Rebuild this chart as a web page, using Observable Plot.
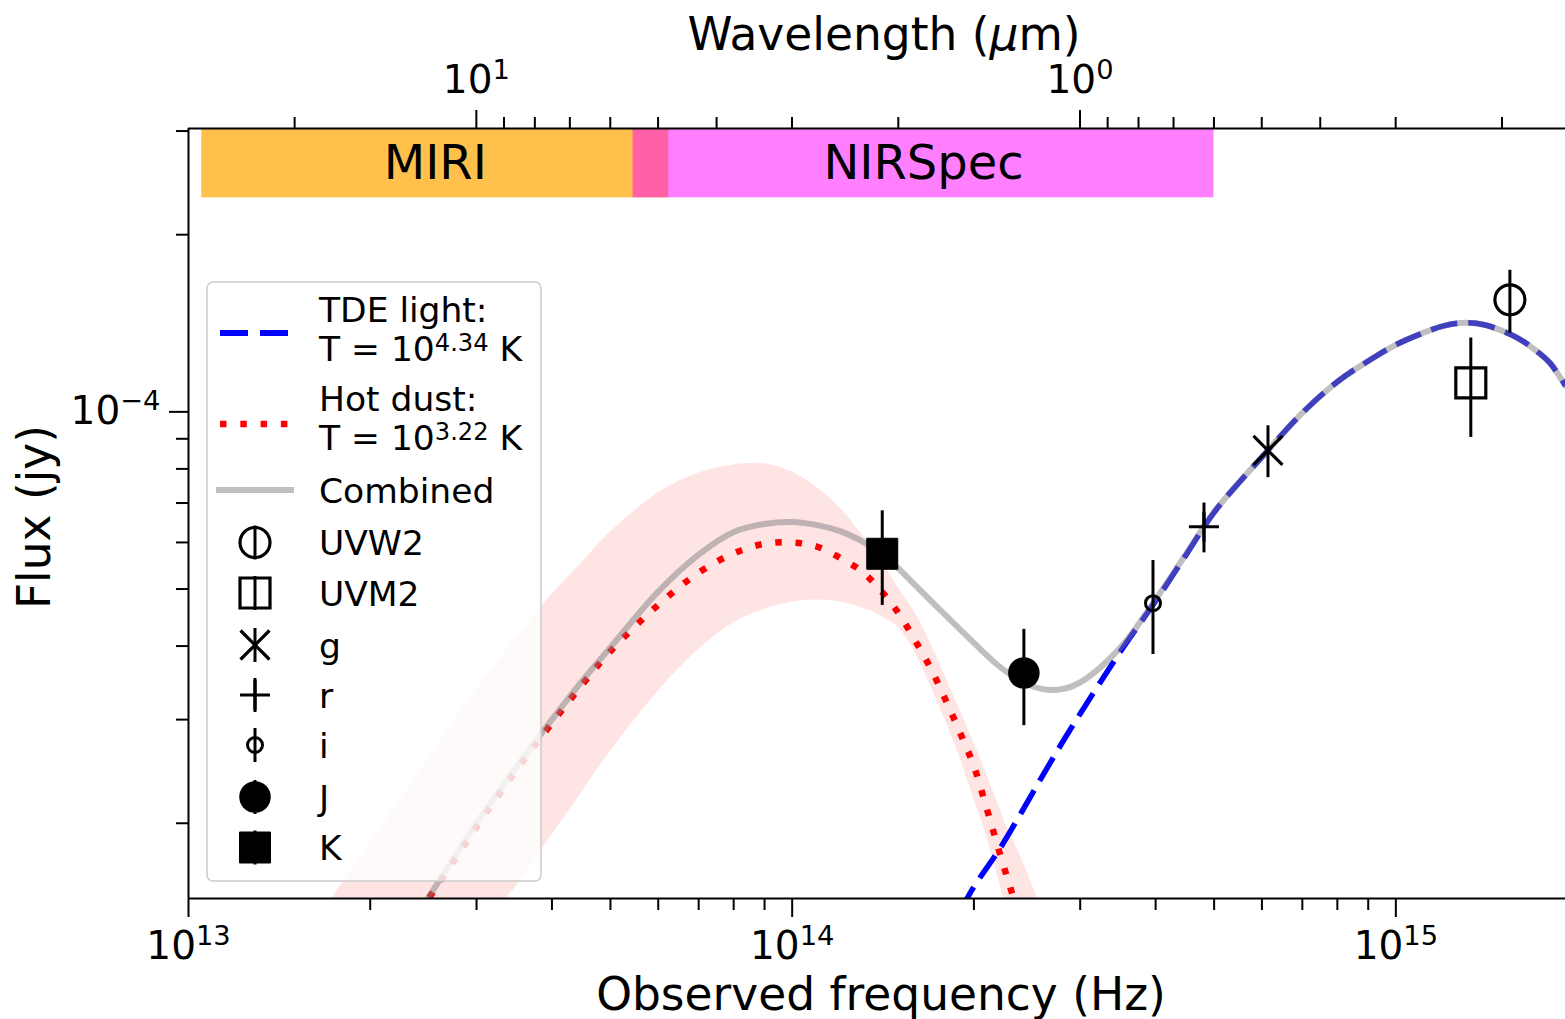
<!DOCTYPE html>
<html>
<head>
<meta charset="utf-8">
<title>TDE SED</title>
<script src="https://cdn.jsdelivr.net/npm/d3@7"></script>
<script src="https://cdn.jsdelivr.net/npm/@observablehq/plot@0.6"></script>
<style>
  html, body { margin: 0; padding: 0; background: #fff; overflow: hidden; }
  #chart { width: 1565px; height: 1019px; }
  #chart svg { display: block; font-family: "DejaVu Sans", sans-serif; }
</style>
</head>
<body>
<div id="chart"></div>
<script>
// ---------------- data ----------------
const C_UM_HZ = 2.998e14; // c in µm·Hz, converts wavelength (µm) <-> frequency (Hz)

// photometric points
const obsBand = ["UVW2", "UVM2", "g", "r", "i", "J", "K"];
const obsFreq = [1.545e15, 1.331e15, 6.14e14, 4.81e14, 3.96e14, 2.42e14, 1.41e14];
const obsFlux = [1.55e-4, 1.12e-4, 8.6e-5, 6.38e-5, 4.73e-5, 3.60e-5, 5.74e-5];
const obsErr  = [1.9e-5, 2.15e-5, 8.7e-6, 6.2e-6, 8.6e-6, 6.7e-6, 1.05e-5];

// TDE light
const tdeFreq = [1.9e14, 2.0e14, 2.2e14, 2.4e14, 2.6e14, 2.8e14, 3.0e14, 3.5e14, 4.0e14, 4.5e14, 5.0e14,
                 6.0e14, 7.0e14, 8.0e14, 9.0e14, 1.0e15, 1.1e15, 1.2e15, 1.3e15, 1.4e15, 1.5e15, 1.6e15, 1.7e15, 1.8e15, 1.91e15];
const tdeFlux = [1.42e-5, 1.56e-5, 1.80e-5, 2.09e-5, 2.41e-5, 2.74e-5, 3.07e-5, 3.92e-5, 4.77e-5, 5.73e-5, 6.75e-5,
                 8.38e-5, 9.96e-5, 1.125e-4, 1.22e-4, 1.30e-4, 1.357e-4, 1.40e-4, 1.417e-4, 1.406e-4, 1.373e-4, 1.331e-4, 1.275e-4, 1.211e-4, 1.107e-4];

// Hot dust (dotted red curve)
const dustFreq = [2.4e13, 2.5e13, 3e13, 3.5e13, 4e13, 4.5e13, 5e13, 6e13, 7e13, 8e13, 9e13, 1e14, 1.1e14, 1.2e14, 1.3e14,
                  1.4e14, 1.5e14, 1.6e14, 1.7e14, 1.8e14, 1.9e14, 2.0e14, 2.1e14, 2.2e14, 2.3e14, 2.4e14];
const dustFlux = [1.40e-5, 1.49e-5, 1.97e-5, 2.47e-5, 2.96e-5, 3.45e-5, 3.92e-5, 4.70e-5, 5.33e-5, 5.75e-5, 5.97e-5, 6.00e-5, 5.90e-5, 5.65e-5, 5.37e-5,
                  4.98e-5, 4.55e-5, 4.08e-5, 3.65e-5, 3.22e-5, 2.84e-5, 2.50e-5, 2.12e-5, 1.80e-5, 1.55e-5, 1.35e-5];

// Combined (grey curve)
const combFreq = [2.4e13, 2.5e13, 3e13, 3.5e13, 4e13, 4.5e13, 5e13, 6e13, 7e13, 8e13, 9e13,
                  1.0e14, 1.1e14, 1.2e14, 1.3e14, 1.4e14, 1.5e14, 1.6e14,
                  1.8e14, 2.0e14, 2.2e14, 2.4e14, 2.6e14, 2.8e14, 3.0e14, 3.5e14, 4.0e14, 4.5e14, 5.0e14,
                  6.0e14, 7.0e14, 8.0e14, 9.0e14,
                  1.0e15, 1.1e15, 1.2e15, 1.3e15, 1.4e15, 1.5e15, 1.6e15, 1.7e15, 1.8e15, 1.91e15];
const combFlux = [1.41e-5, 1.50e-5, 2.00e-5, 2.50e-5, 3.00e-5, 3.50e-5, 3.98e-5, 4.95e-5, 5.72e-5, 6.25e-5, 6.45e-5,
                  6.50e-5, 6.42e-5, 6.27e-5, 6.04e-5, 5.75e-5, 5.42e-5, 5.07e-5,
                  4.50e-5, 4.05e-5, 3.70e-5, 3.48e-5, 3.38e-5, 3.38e-5, 3.47e-5, 3.98e-5, 4.80e-5, 5.75e-5, 6.76e-5,
                  8.38e-5, 9.96e-5, 1.125e-4, 1.22e-4,
                  1.30e-4, 1.357e-4, 1.40e-4, 1.417e-4, 1.406e-4, 1.373e-4, 1.331e-4, 1.275e-4, 1.211e-4, 1.107e-4];

// Hot-dust uncertainty band (pink), lower / upper edges (values below the axis run off the frame)
const bandFreq  = [1.7e13, 1.74e13, 2e13, 2.5e13, 3e13, 3.38e13, 3.5e13, 4e13, 4.5e13, 5e13,
                   6e13, 7e13, 8e13, 9e13,
                   1.0e14, 1.1e14, 1.2e14, 1.3e14, 1.4e14, 1.5e14, 1.6e14, 1.7e14, 1.8e14, 1.9e14, 2.0e14, 2.1e14, 2.2e14,
                   2.25e14, 2.4e14, 2.55e14, 2.6e14];
const bandUpper = [1.42e-5, 1.50e-5, 1.85e-5, 2.58e-5, 3.38e-5, 3.95e-5, 4.15e-5, 4.90e-5, 5.57e-5, 6.25e-5,
                   7.28e-5, 7.87e-5, 8.12e-5, 8.16e-5,
                   7.90e-5, 7.43e-5, 6.87e-5, 6.22e-5, 5.62e-5, 5.02e-5, 4.55e-5, 4.02e-5, 3.52e-5, 3.10e-5, 2.74e-5, 2.42e-5, 2.14e-5,
                   2.01e-5, 1.74e-5, 1.49e-5, 1.42e-5];
const bandLower = [1.3e-5, 1.3e-5, 1.3e-5, 1.3e-5, 1.3e-5, 1.50e-5, 1.57e-5, 1.91e-5, 2.27e-5, 2.65e-5,
                   3.35e-5, 3.95e-5, 4.38e-5, 4.62e-5,
                   4.75e-5, 4.79e-5, 4.75e-5, 4.65e-5, 4.50e-5, 4.30e-5, 3.89e-5, 3.40e-5, 2.96e-5, 2.57e-5, 2.20e-5, 1.90e-5, 1.60e-5,
                   1.48e-5, 1.3e-5, 1.3e-5, 1.3e-5];

// JWST instrument coverage (wavelength, µm)
const instName  = ["MIRI", "NIRSpec"];
const instWlMin = [4.8, 0.6];
const instWlMax = [28.5, 5.5];
const instFluxBottom = 2.31e-4;

// axes
const xDomain = [1e13, 1.91e15];
const yDomain = [1.49e-5, 3.03e-4];
const xMajorTicks = [1e13, 1e14, 1e15];
const xMinorTicks = [2e13, 3e13, 4e13, 5e13, 6e13, 7e13, 8e13, 9e13, 2e14, 3e14, 4e14, 5e14, 6e14, 7e14, 8e14, 9e14];
const wlMajorTicks = [10, 1];
const wlMinorTicks = [20, 9, 8, 7, 6, 5, 4, 3, 2, 0.9, 0.8, 0.7, 0.6, 0.5, 0.4, 0.3, 0.2];
const yMajorTicks = [1e-4];
const yMinorTicks = [2e-5, 3e-5, 4e-5, 5e-5, 6e-5, 7e-5, 8e-5, 9e-5, 2e-4, 3e-4];

// ---------------- tables ----------------
const obs  = obsBand.map((b, i) => ({band: b, nu: obsFreq[i], f: obsFlux[i], e: obsErr[i]}));
const tde  = tdeFreq.map((nu, i) => ({nu, f: tdeFlux[i]}));
const dust = dustFreq.map((nu, i) => ({nu, f: dustFlux[i]}));
const comb = combFreq.map((nu, i) => ({nu, f: combFlux[i]}));
const band = bandFreq.map((nu, i) => ({nu, lo: bandLower[i], hi: bandUpper[i]}));
const inst = instName.map((n, i) => ({
  name: n, x1: C_UM_HZ / instWlMax[i], x2: C_UM_HZ / instWlMin[i],
  y1: instFluxBottom, y2: yDomain[1],
  xc: Math.sqrt((C_UM_HZ / instWlMax[i]) * (C_UM_HZ / instWlMin[i])),
  yc: Math.sqrt(instFluxBottom * yDomain[1])
}));

// ---------------- marker symbols ----------------
const rad = s => Math.sqrt(s / Math.PI);
const symCircle = {draw(c, s) { const r = rad(s); c.moveTo(r, 0); c.arc(0, 0, r, 0, 2 * Math.PI); }};
const symSquare = {draw(c, s) { const r = rad(s); c.rect(-r, -r, 2 * r, 2 * r); }};
const symPlus   = {draw(c, s) { const r = rad(s); c.moveTo(-r, 0); c.lineTo(r, 0); c.moveTo(0, -r); c.lineTo(0, r); }};
const symTimes  = {draw(c, s) { const r = rad(s); c.moveTo(-r, -r); c.lineTo(r, r); c.moveTo(-r, r); c.lineTo(r, -r); }};

const markerStyle = {
  UVW2: {symbol: symCircle, r: 15,   fill: "none",  strokeWidth: 3.2},
  UVM2: {symbol: symSquare, r: 15,   fill: "none",  strokeWidth: 3.2},
  g:    {symbol: symTimes,  r: 14.5, fill: "none",  strokeWidth: 3.2},
  r:    {symbol: symPlus,   r: 15,   fill: "none",  strokeWidth: 3.2},
  i:    {symbol: symCircle, r: 7.5,  fill: "none",  strokeWidth: 3},
  J:    {symbol: symCircle, r: 15,   fill: "black", strokeWidth: 1.5},
  K:    {symbol: symSquare, r: 15.5, fill: "black", strokeWidth: 1}
};

const supFmt = d => `10^{${Math.round(Math.log10(d))}}`;

// ---------------- plot ----------------
const plot = Plot.plot({
  width: 1565,
  height: 1019,
  marginLeft: 188,
  marginRight: 0,
  marginTop: 128,
  marginBottom: 121,
  style: {fontFamily: "DejaVu Sans", background: "white", color: "black", overflow: "visible"},
  x: {type: "log", domain: xDomain, label: null},
  y: {type: "log", domain: yDomain, label: null},
  marks: [
    Plot.areaY(band, {x: "nu", y1: "lo", y2: "hi", fill: "red", fillOpacity: 0.105, curve: "catmull-rom", clip: true}),
    Plot.line(dust, {x: "nu", y: "f", stroke: "red", strokeWidth: 6.5, strokeDasharray: "6.5,13.8", strokeLinecap: "butt", curve: "catmull-rom", clip: true}),
    Plot.line(tde, {x: "nu", y: "f", stroke: "blue", strokeWidth: 5.5, strokeDasharray: "27,11", strokeLinecap: "butt", curve: "catmull-rom", clip: true}),
    Plot.line(comb, {x: "nu", y: "f", stroke: "gray", strokeOpacity: 0.5, strokeWidth: 6, curve: "catmull-rom", clip: true}),
    Plot.ruleX(obs, {x: "nu", y1: d => d.f - d.e, y2: d => d.f + d.e, stroke: "black", strokeWidth: 3}),
    ...obsBand.map(b => Plot.dot(obs.filter(d => d.band === b), {
      x: "nu", y: "f", symbol: markerStyle[b].symbol, r: markerStyle[b].r,
      fill: markerStyle[b].fill, stroke: "black", strokeWidth: markerStyle[b].strokeWidth
    })),
    Plot.rect(inst.filter(d => d.name === "MIRI"), {x1: "x1", x2: "x2", y1: "y1", y2: "y2", fill: "orange", fillOpacity: 0.7}),
    Plot.rect(inst.filter(d => d.name === "NIRSpec"), {x1: "x1", x2: "x2", y1: "y1", y2: "y2", fill: "magenta", fillOpacity: 0.5}),
    Plot.text(inst, {x: "xc", y: "yc", text: "name", fontSize: 48, fill: "black"}),
    Plot.ruleX([xDomain[0]], {stroke: "black", strokeWidth: 2}),
    Plot.ruleY([yDomain[0], yDomain[1]], {stroke: "black", strokeWidth: 2}),
    Plot.axisX({anchor: "bottom", ticks: xMajorTicks, tickSize: 19, tickPadding: 14, tickFormat: supFmt, fontSize: 39, strokeWidth: 2, label: null}),
    Plot.axisX({anchor: "bottom", ticks: xMinorTicks, tickSize: 12, tickFormat: () => "", strokeWidth: 2, label: null}),
    Plot.axisX({anchor: "top", ticks: wlMajorTicks.map(l => C_UM_HZ / l), tickSize: 19, tickPadding: 17,
                tickFormat: nu => supFmt(C_UM_HZ / nu), fontSize: 39, strokeWidth: 2, label: null}),
    Plot.axisX({anchor: "top", ticks: wlMinorTicks.map(l => C_UM_HZ / l), tickSize: 12, tickFormat: () => "", strokeWidth: 2, label: null}),
    Plot.axisY({anchor: "left", ticks: yMajorTicks, tickSize: 19, tickPadding: 9, tickFormat: supFmt, fontSize: 39, strokeWidth: 2, label: null}),
    Plot.axisY({anchor: "left", ticks: yMinorTicks, tickSize: 12, tickFormat: () => "", strokeWidth: 2, label: null})
  ]
});
document.getElementById("chart").appendChild(plot);

// ---------------- math text (superscripts) ----------------
function renderMath(el, s, fs, raiseFactor = 0.37) {
  const parts = s.split(/\^\{([^}]*)\}/);
  const raise = Math.round(fs * raiseFactor);
  let lifted = false;
  parts.forEach((p, i) => {
    if (i % 2 === 0) {
      if (p === "") return;
      const t = el.append("tspan").text(p);
      if (lifted) { t.attr("dy", raise); lifted = false; }
    } else {
      el.append("tspan").attr("dy", -raise).attr("font-size", (fs * 0.7) + "px").text(p.replace(/-/g, "\u2212"));
      lifted = true;
    }
  });
}
const svg = d3.select(plot);
svg.selectAll("text").each(function () {
  const s = this.textContent;
  if (!s.includes("^{")) return;
  const fs = parseFloat(getComputedStyle(this).fontSize) || 39;
  const el = d3.select(this);
  el.text(null);
  renderMath(el, s, fs);
});

// ---------------- axis titles ----------------
const titles = svg.append("g").attr("font-family", "DejaVu Sans").attr("font-size", 45.5).attr("fill", "black").attr("text-anchor", "middle");
const wl = titles.append("text").attr("x", 884).attr("y", 50);
wl.append("tspan").text("Wavelength (");
wl.append("tspan").attr("font-style", "italic").text("\u03bc");
wl.append("tspan").text("m)");
titles.append("text").attr("x", 881).attr("y", 1010).text("Observed frequency (Hz)");
titles.append("text").attr("transform", "translate(50,517) rotate(-90)").text("Flux (jy)");

// ---------------- legend ----------------
const lg = svg.append("g").attr("font-family", "DejaVu Sans").attr("font-size", 34.5).attr("fill", "black").attr("text-anchor", "start");
lg.append("rect").attr("x", 207).attr("y", 282).attr("width", 334).attr("height", 599).attr("rx", 6)
  .attr("fill", "white").attr("fill-opacity", 0.8).attr("stroke", "#cccccc").attr("stroke-width", 1.5);

const textX = 319;
function legendText(x, y, s) {
  const t = lg.append("text").attr("x", x).attr("y", y).attr("text-anchor", "start");
  renderMath(t, s, 34.5, 0.29);
}
// TDE
lg.append("line").attr("x1", 220).attr("x2", 290).attr("y1", 333).attr("y2", 333)
  .attr("stroke", "blue").attr("stroke-width", 6).attr("stroke-dasharray", "28,12");
legendText(textX, 322, "TDE light:");
legendText(textX, 361, "T = 10^{4.34} K");
// Hot dust
lg.append("line").attr("x1", 220).attr("x2", 290).attr("y1", 424).attr("y2", 424)
  .attr("stroke", "red").attr("stroke-width", 6.5).attr("stroke-dasharray", "6.5,13.8");
legendText(textX, 411, "Hot dust:");
legendText(textX, 450, "T = 10^{3.22} K");
// Combined
lg.append("line").attr("x1", 216).attr("x2", 294).attr("y1", 490).attr("y2", 490)
  .attr("stroke", "gray").attr("stroke-opacity", 0.5).attr("stroke-width", 6);
legendText(textX, 503, "Combined");
// markers
const legendMarkerY = [542.5, 593, 645, 695, 745, 797, 847.5];
obsBand.forEach((b, i) => {
  const cy = legendMarkerY[i], st = markerStyle[b];
  lg.append("line").attr("x1", 255).attr("x2", 255).attr("y1", cy - 17).attr("y2", cy + 17)
    .attr("stroke", "black").attr("stroke-width", 3);
  lg.append("path").attr("transform", `translate(255,${cy})`)
    .attr("d", d3.symbol(st.symbol, st.r * st.r * Math.PI)())
    .attr("fill", st.fill).attr("stroke", "black").attr("stroke-width", st.strokeWidth);
  legendText(textX, cy + 12.5, b);
});
</script>
</body>
</html>
